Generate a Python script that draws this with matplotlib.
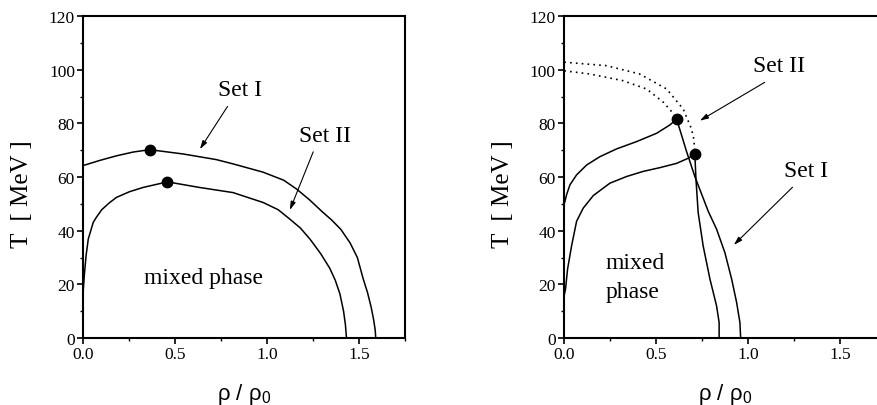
# phase diagram T vs rho/rho0: two parameter sets, two panels
import matplotlib
matplotlib.use('Agg')
import matplotlib.pyplot as plt
from matplotlib.ticker import MultipleLocator

plt.rcParams['font.family'] = ['Liberation Serif', 'DejaVu Serif']
plt.rcParams['mathtext.fontset'] = 'stix'

# ---- left panel ----
l_set1_x = [0.0, 0.09, 0.18, 0.27, 0.361, 0.542, 0.723, 0.814, 0.978, 1.09, 1.16, 1.23,
            1.30, 1.35, 1.40, 1.45, 1.49, 1.522, 1.545, 1.565, 1.578, 1.587, 1.59]
l_set1_T = [64.3, 66.2, 67.9, 69.3, 70.2, 68.6, 66.5, 64.9, 61.8, 58.8, 55.5, 51.5,
            47.0, 44.0, 40.5, 35.5, 30.0, 22.0, 17.0, 11.5, 7.0, 3.0, 0.0]
l_set2_x = [0.0, 0.005, 0.015, 0.027, 0.054, 0.071, 0.10, 0.14, 0.18, 0.25, 0.324, 0.457, 0.633, 0.814,
            0.978, 1.06, 1.123, 1.18, 1.232, 1.29, 1.34, 1.37, 1.395, 1.415, 1.425, 1.431]
l_set2_T = [18.0, 23.0, 30.7, 36.9, 43.1, 45.0, 47.8, 50.3, 52.4, 54.5, 56.1, 58.2, 56.1, 54.2,
            50.5, 47.8, 44.3, 41.0, 36.9, 31.5, 26.0, 21.5, 16.5, 10.0, 5.0, 0.0]
l_crit_x = [0.361, 0.457]
l_crit_T = [70.2, 58.2]

# ---- right panel ----
r_set1_x = [0.0, 0.004, 0.013, 0.031, 0.067, 0.122, 0.194, 0.285, 0.393, 0.502, 0.574, 0.611]
r_set1_T = [50.0, 51.0, 53.5, 57.1, 60.8, 64.5, 67.6, 70.5, 73.2, 76.3, 79.4, 81.6]
r_set1_dx = [0.611, 0.665, 0.71, 0.755, 0.783, 0.828, 0.873, 0.91, 0.937, 0.955, 0.959]
r_set1_dT = [81.6, 69.5, 60.2, 52.2, 47.2, 40.6, 31.9, 22.0, 13.3, 5.8, 0.0]
r_set1_ox = [0.0, 0.14, 0.32, 0.448, 0.54, 0.595, 0.611]
r_set1_oT = [99.6, 98.4, 95.9, 92.8, 87.8, 83.5, 81.6]

r_set2_x = [0.0, 0.007, 0.018, 0.04, 0.067, 0.103, 0.158, 0.248, 0.339, 0.429, 0.52, 0.611, 0.674, 0.71]
r_set2_T = [16.0, 18.3, 25.7, 34.4, 43.5, 48.4, 53.1, 57.7, 60.2, 62.1, 63.5, 65.1, 67.0, 68.6]
r_set2_dx = [0.71, 0.716, 0.728, 0.755, 0.792, 0.828, 0.842, 0.842]
r_set2_dT = [68.6, 59.3, 46.8, 34.4, 22.0, 12.0, 5.8, 0.0]
r_set2_ox = [0.0, 0.23, 0.41, 0.557, 0.647, 0.692, 0.705, 0.71]
r_set2_oT = [102.8, 101.5, 98.4, 92.8, 85.3, 77.9, 74.0, 68.6]
r_crit_x = [0.611, 0.71]
r_crit_T = [81.6, 68.6]

fig = plt.figure(figsize=(8.77, 4.06), dpi=100)
ax1 = fig.add_axes([0.095, 0.165, 0.367, 0.793])
ax2 = fig.add_axes([0.6434, 0.165, 0.367, 0.793])

arrow = dict(arrowstyle='-|>,head_length=0.5,head_width=0.15', lw=0.8, color='k', shrinkA=0, shrinkB=0)

def setup(ax):
    ax.set_xlim(0, 1.75)
    ax.set_ylim(0, 120)
    ax.xaxis.set_major_locator(MultipleLocator(0.5))
    ax.xaxis.set_minor_locator(MultipleLocator(0.25))
    ax.yaxis.set_major_locator(MultipleLocator(20))
    ax.yaxis.set_minor_locator(MultipleLocator(10))
    ax.xaxis.set_major_formatter(plt.FormatStrFormatter('%.1f'))
    ax.tick_params(which='major', direction='out', length=4, width=1.2, labelsize=12.5, pad=2)
    ax.tick_params(which='minor', direction='out', length=2.5, width=1.0)
    ax.tick_params(top=False, right=False)
    for s in ax.spines.values():
        s.set_linewidth(1.5)
    ax.set_ylabel('T  [ MeV ]', fontsize=18)
    ax.yaxis.set_label_coords(-0.155, 0.45)
    ax.set_xlabel('ρ / ρ$_\\mathregular{0}$', fontsize=16, family=['Liberation Sans', 'DejaVu Sans'])
    ax.xaxis.set_label_coords(0.5, -0.135)

setup(ax1)
ax1.plot(l_set1_x, l_set1_T, color='k', lw=1.1)
ax1.plot(l_set2_x, l_set2_T, color='k', lw=1.1)
ax1.plot(l_crit_x, l_crit_T, 'o', color='k', ms=7.5)
ax1.annotate('', xy=(0.634, 70.4), xytext=(0.784, 86.3), arrowprops=arrow)
ax1.text(0.85, 92.8, 'Set I', fontsize=17, ha='center', va='center')
ax1.annotate('', xy=(1.123, 47.7), xytext=(1.25, 69.4), arrowprops=arrow)
ax1.text(1.313, 75.4, 'Set II', fontsize=17, ha='center', va='center')
ax1.text(0.656, 22.6, 'mixed phase', fontsize=17, ha='center', va='center')

setup(ax2)
ax2.plot(r_set1_x, r_set1_T, color='k', lw=1.1)
ax2.plot(r_set1_dx, r_set1_dT, color='k', lw=1.1)
ax2.plot(r_set1_ox, r_set1_oT, color='k', lw=1.2, ls=(0, (1, 2.5)))
ax2.plot(r_set2_x, r_set2_T, color='k', lw=1.1)
ax2.plot(r_set2_dx, r_set2_dT, color='k', lw=1.1)
ax2.plot(r_set2_ox, r_set2_oT, color='k', lw=1.2, ls=(0, (1, 2.5)))
ax2.plot(r_crit_x, r_crit_T, 'o', color='k', ms=7.5)
ax2.annotate('', xy=(0.737, 81.0), xytext=(1.09, 95.3), arrowprops=arrow)
ax2.text(1.168, 101.5, 'Set II', fontsize=17, ha='center', va='center')
ax2.annotate('', xy=(0.922, 34.7), xytext=(1.241, 56.2), arrowprops=arrow)
ax2.text(1.317, 62.4, 'Set I', fontsize=17, ha='center', va='center')
ax2.text(0.225, 22.8, 'mixed\nphase', fontsize=17, ha='left', va='center', linespacing=1.5)

fig.savefig('out.png', dpi=100)
